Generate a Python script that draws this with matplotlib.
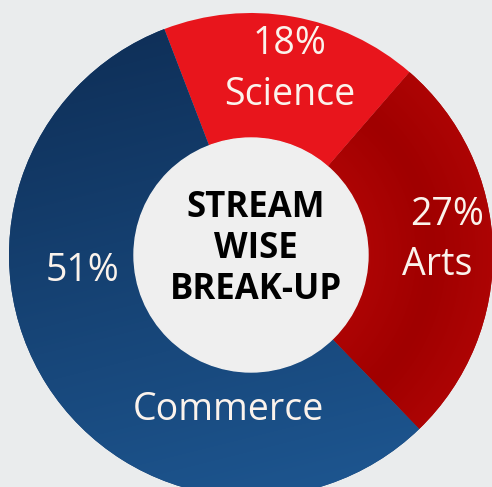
import numpy as np
import matplotlib
matplotlib.use("Agg")
import matplotlib.pyplot as plt
from matplotlib.colors import LinearSegmentedColormap

# data
streams = ["Science", "Arts", "Commerce"]
pct_labels = ["18%", "27%", "51%"]
shares = [17.2, 26.4, 56.4]          # arc sizes as drawn in the picture
center_title = "STREAM\nWISE\nBREAK-UP"

W, H = 492, 487
cx, cy = 251, H - 255
r_out, r_in = 242, 117

plt.rcParams['font.family'] = ['Open Sans', 'DejaVu Sans']

fig = plt.figure(figsize=(W / 100, H / 100), dpi=100)
fig.patch.set_facecolor("#eaeced")
ax = fig.add_axes([0, 0, 1, 1])
ax.set_facecolor("#eaeced")

wedges, _ = ax.pie(shares, startangle=111, counterclock=False,
                   colors=["#e8151c", "#b30205", "#153f72"],
                   radius=r_out, center=(cx, cy),
                   wedgeprops=dict(width=r_out - r_in, linewidth=0))
ax.set_xlim(0, W)
ax.set_ylim(0, H)
ax.set_aspect("auto")
ax.axis("off")

# soft gradients clipped to the wedges
yy, xx = np.mgrid[0:H, 0:W]          # yy = 0 at the bottom (origin lower)
ring_mid = np.abs(np.hypot(xx - cx, yy - cy) - (r_in + r_out) / 2)
fields = {
    1: (ring_mid, ["#a00000", "#c60c0c"]),
    2: (-(yy * 0.8) + (xx * 0.2), ["#0d2b52", "#1e5893"]),
}
for i, (field, cols) in fields.items():
    cmap = LinearSegmentedColormap.from_list("g%d" % i, cols)
    im = ax.imshow(field, cmap=cmap, extent=(0, W, 0, H), origin="lower",
                   aspect="auto", zorder=wedges[i].get_zorder() + 0.1)
    im.set_clip_path(wedges[i])

# inner disc
ax.add_patch(plt.Circle((cx, cy), r_in, color="#efefef", zorder=5))
ax.text(cx + 5, cy + 6, center_title, ha="center", va="center",
        fontsize=25, fontweight="bold", color="black", linespacing=1.18,
        zorder=6)

txt = dict(color="#fbf3ec", ha="center", va="center", fontsize=27, zorder=6)
ax.text(290, H - 44, pct_labels[0], **txt)
ax.text(290, H - 95, streams[0], **txt)
ax.text(447, H - 215, pct_labels[1], **txt)
ax.text(437, H - 265, streams[1], **txt)
ax.text(82, H - 271, pct_labels[2], **txt)
ax.text(228, H - 410, streams[2], **txt)

fig.savefig("out.png", dpi=100, facecolor=fig.get_facecolor())
